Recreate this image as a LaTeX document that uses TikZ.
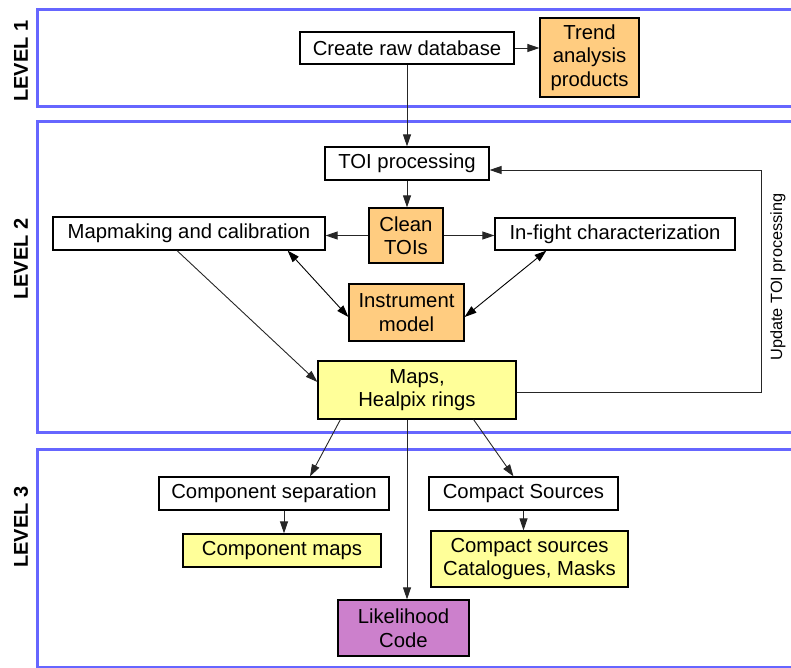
\documentclass[tikz,border=0pt]{standalone}
\usepackage{fontspec}
\setmainfont{Liberation Sans}
\usetikzlibrary{arrows.meta,calc}
\definecolor{frameblue}{RGB}{102,102,255}
\definecolor{boxorange}{RGB}{255,204,128}
\definecolor{boxyellow}{RGB}{255,255,153}
\definecolor{boxpurple}{RGB}{204,128,204}
\tikzset{
  box/.style={draw=black, line width=1.2pt, align=center, inner sep=0pt,
    font=\fontsize{20.3}{23.5}\selectfont},
  wbox/.style={box, fill=white},
  obox/.style={box, fill=boxorange},
  ybox/.style={box, fill=boxyellow},
  pbox/.style={box, fill=boxpurple},
  frame/.style={draw=frameblue, line width=3pt},
  lvl/.style={rotate=90, font=\fontsize{20}{24}\selectfont\bfseries},
  arr/.style={draw=black!85, line width=0.9pt, -{Triangle[length=12pt,width=8pt]}},
  darr/.style={draw=black, line width=0.9pt, {Triangle[length=12pt,width=8pt]}-{Triangle[length=12pt,width=8pt]}},
}
\begin{document}
\begin{tikzpicture}[x=1pt,y=-1pt]
\useasboundingbox (0,0) rectangle (791,668);
\begin{scope}
\clip (0,0) rectangle (791,668);
\draw[frame] (37.5,9.7) rectangle (830,106.7);
\draw[frame] (37.5,122) rectangle (830,432);
\draw[frame] (37.5,449.5) rectangle (830,667.5);
\end{scope}
\node[lvl] (l1) at (21,61) {LEVEL 1};
\node[lvl] (l2) at (21,259) {LEVEL 2};
\node[lvl] (l3) at (21,527) {LEVEL 3};

\node[wbox, minimum width=214pt, minimum height=32pt] (raw) at (407,48) {Create raw database};
\node[obox, minimum width=99pt, minimum height=79pt] (trend) at (589.5,57.5) {Trend\\analysis\\products};
\node[wbox, minimum width=164pt, minimum height=33pt] (toi) at (407,163.5) {TOI processing};
\node[obox, minimum width=74pt, minimum height=55pt] (clean) at (406,235.5) {Clean\\TOIs};
\node[wbox, minimum width=272pt, minimum height=33pt] (mapm) at (189,233.5) {Mapmaking and calibration};
\node[wbox, minimum width=240pt, minimum height=32pt] (infight) at (615,234) {In-fight characterization};
\node[obox, minimum width=115pt, minimum height=57pt] (instr) at (406.5,312.5) {Instrument\\model};
\node[ybox, minimum width=198pt, minimum height=58pt] (maps) at (417,390) {Maps,\\Healpix rings};
\node[wbox, minimum width=230pt, minimum height=33pt] (compsep) at (274,493.5) {Component separation};
\node[ybox, minimum width=198pt, minimum height=33pt] (compmaps) at (282,550.5) {Component maps};
\node[wbox, minimum width=189pt, minimum height=33pt] (compact) at (523.5,493.5) {Compact Sources};
\node[ybox, minimum width=197pt, minimum height=56pt] (catal) at (529.5,559) {Compact sources\\Catalogues, Masks};
\node[pbox, minimum width=131pt, minimum height=56pt] (like) at (403.5,628) {Likelihood\\Code};

\node[rotate=90, font=\fontsize{16.3}{19}\selectfont] (upd) at (778,277) {Update TOI processing};

% connectors
\draw[arr] (raw.south) -- (toi.north);
\draw[arr] (raw.east) -- (raw.east -| trend.west);
\draw[arr] (toi.south) -- (toi.south |- clean.north);
\draw[arr] (clean.west) -- (clean.west -| mapm.east);
\draw[arr] (clean.east) -- (clean.east -| infight.west);
\draw[darr] ($(mapm.south east)+(-38,0)$) -- ($(instr.west)+(0,4.5)$);
\draw[darr] ($(infight.south west)+(52,0)$) -- ($(instr.east)+(0,4.5)$);
\draw[arr] ($(mapm.south)+(-12,0)$) -- ($(maps.west)+(0,-8)$);
\coordinate (fb) at (761,170);
\draw[arr] ($(maps.east)+(0,2)$) -| (fb) -- (fb -| toi.east);
\draw[arr] ($(maps.south west)+(23,0)$) -- ($(compsep.north)+(36,0)$);
\draw[arr] ($(maps.south east)+(-43,0)$) -- ($(compact.north)+(-10,0)$);
\coordinate (lk) at ($(like.north)+(3.5,0)$);
\draw[arr] (maps.south -| lk) -- (lk);
\draw[arr] ($(compsep.south)+(10,0)$) -- ($(compmaps.north)+(2,0)$);
\draw[arr] (compact.south) -- (compact.south |- catal.north);
\end{tikzpicture}
\end{document}
